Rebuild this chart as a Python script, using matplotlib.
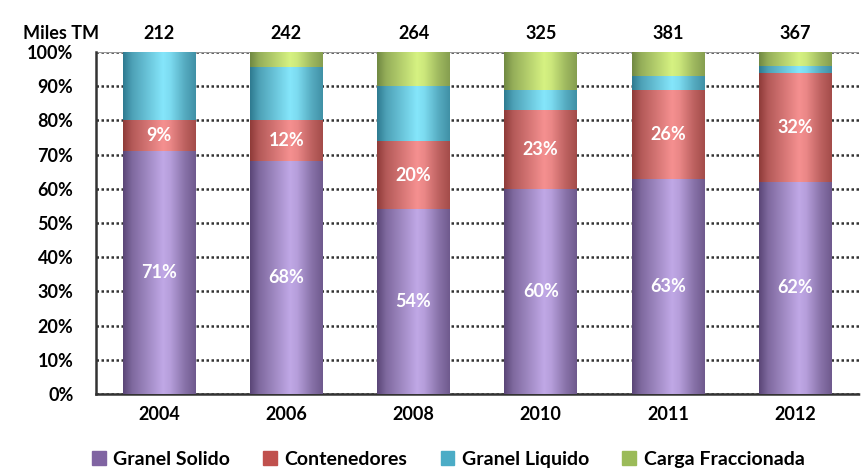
import numpy as np
import matplotlib.pyplot as plt
from matplotlib.colors import to_rgb

plt.rcParams['font.family'] = ['Lato', 'DejaVu Sans']

# datos
years = ['2004', '2006', '2008', '2010', '2011', '2012']
totals = [212, 242, 264, 325, 381, 367]
granel_solido = [71, 68, 54, 60, 63, 62]
contenedores = [9, 12, 20, 23, 26, 32]
granel_liquido = [20, 15.5, 16, 6, 4, 2]
carga_fracc = [0, 4.5, 10, 11, 7, 4]

series = [granel_solido, contenedores, granel_liquido, carga_fracc]
names = ['Granel Solido', 'Contenedores', 'Granel Liquido', 'Carga Fraccionada']
# color base, color brillo
colors = [('#7a5fa0', '#c0a8e6'), ('#c0504d', '#f59090'),
          ('#3fa5c2', '#85e6fb'), ('#98b85a', '#d6f282')]
legend_colors = ['#8064a2', '#c0504d', '#4bacc6', '#9bbb59']
FW = 'bold'

fig = plt.figure(figsize=(8.62, 4.71), dpi=100)
ax = fig.add_axes([0.111, 0.1635, 0.885, 0.726])

x = np.arange(len(years))
w = 0.57

# perfil del cilindro (oscuro - brillo - oscuro)
t = np.linspace(0, 1, 64)
prof = np.interp(t, [0, 0.12, 0.55, 0.65, 0.85, 1], [0.0, 0.35, 1.0, 0.9, 0.45, 0.2])

bottom = np.zeros(len(years))
for vals, (c0, c1) in zip(series, colors):
    vals = np.array(vals, dtype=float)
    a, b = np.array(to_rgb(c0)), np.array(to_rgb(c1))
    img = (a[None, :] * 0.75 + (b - a * 0.75)[None, :] * prof[:, None])[None, :, :]
    img = np.clip(img, 0, 1)
    for i in range(len(years)):
        if vals[i] <= 0:
            continue
        ax.imshow(img, extent=[x[i] - w / 2, x[i] + w / 2, bottom[i], bottom[i] + vals[i]],
                  aspect='auto', zorder=3, interpolation='bilinear')
    bottom += vals

# etiquetas dentro de las barras
for i in range(len(years)):
    ax.text(x[i], granel_solido[i] / 2, f'{granel_solido[i]}%', ha='center', va='center',
            color='white', fontsize=13, fontweight=FW, zorder=5)
    ax.text(x[i], granel_solido[i] + contenedores[i] / 2, f'{contenedores[i]}%', ha='center',
            va='center', color='white', fontsize=13, fontweight=FW, zorder=5)
    ax.text(x[i], 105.5, str(totals[i]), ha='center', va='center', fontsize=13,
            fontweight=FW, clip_on=False)
ax.text(-0.77, 105.5, 'Miles TM', ha='center', va='center', fontsize=13, fontweight=FW,
        clip_on=False)

ax.set_xlim(-0.5, len(years) - 0.5)
ax.set_ylim(0, 100)
ax.set_yticks(np.arange(0, 101, 10))
ax.set_yticklabels([f'{v}%' for v in range(0, 101, 10)], fontsize=13, fontweight=FW)
ax.set_xticks(x)
ax.set_xticklabels(years, fontsize=13, fontweight=FW)
ax.tick_params(axis='y', length=0, pad=16)
ax.tick_params(axis='x', length=0, pad=9)
ax.yaxis.grid(True, color='#333333', linestyle=(0, (1, 1)), linewidth=1.8, zorder=0)
ax.set_axisbelow(True)
for s in ['top', 'right']:
    ax.spines[s].set_visible(False)
for s in ['left', 'bottom']:
    ax.spines[s].set_linestyle((0, (1, 1)))
    ax.spines[s].set_linewidth(1.8)
    ax.spines[s].set_color('#333333')
ax.axhline(100, color='#999999', lw=1.5, zorder=1)

handles = [plt.Rectangle((0, 0), 1, 1, color=c) for c in legend_colors]
leg = fig.legend(handles, names, loc='center', bbox_to_anchor=(0.52, 0.025), ncol=4,
                 frameon=False, handlelength=0.7, handleheight=0.7, columnspacing=1.7,
                 handletextpad=0.4, prop={'weight': FW, 'size': 14})

fig.savefig('out.png', dpi=100)
